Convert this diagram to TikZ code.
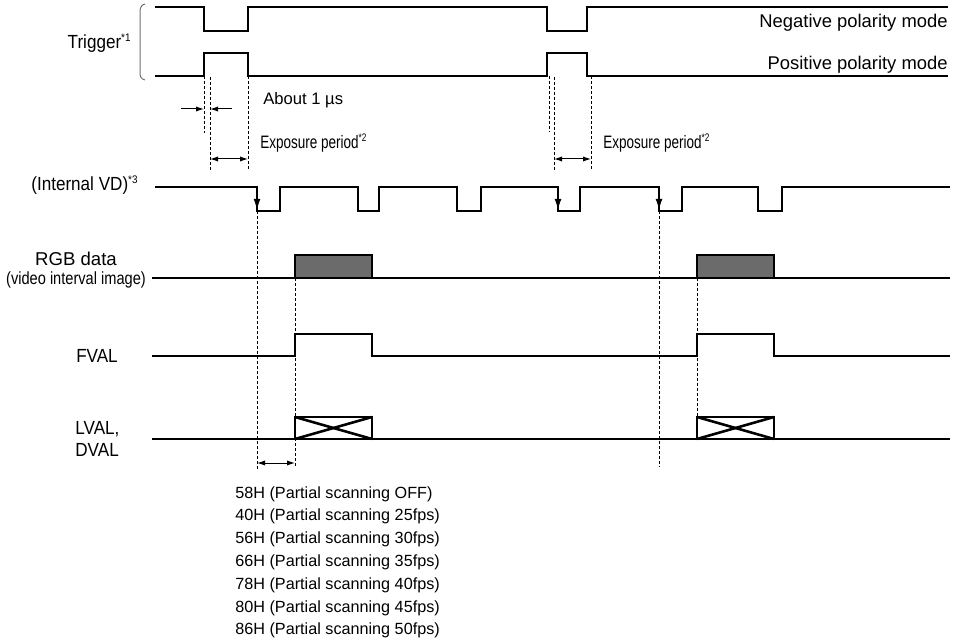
\documentclass[tikz,border=0pt]{standalone}
\usepackage{fontspec}
\setmainfont{Liberation Sans}
\newfontfamily\narrowfont[FakeStretch=0.9]{Liberation Sans}
\newfontfamily\midfont[FakeStretch=0.83]{Liberation Sans}
\newfontfamily\condfont[FakeStretch=0.75]{Liberation Sans}
\usepackage{tikz}
\usetikzlibrary{arrows.meta,positioning,calc}
\definecolor{dataGray}{RGB}{107,107,107}
\definecolor{braceGray}{RGB}{110,110,110}
\newcommand{\notemark}[1]{\raisebox{0.75ex}{\fontsize{5.5}{6}\selectfont*#1}}
\tikzset{
  signal/.style={line width=1.3pt},
  guide/.style={line width=0.45pt,dash pattern=on 1.5pt off 1pt},
  dimarrow/.style={line width=0.5pt,-{Latex[length=4pt,width=2.6pt]}},
  dimboth/.style={line width=0.5pt,{Latex[length=4pt,width=2.6pt]}-{Latex[length=4pt,width=2.6pt]}},
  vdarrow/.style={line width=0.5pt,-{Latex[length=5.5pt,width=3.4pt]}},
  lbl/.style={font=\narrowfont\fontsize{9.5}{11}\selectfont,inner sep=0pt},
  small/.style={font=\fontsize{8.3}{10}\selectfont,inner sep=0pt}
}

\begin{document}
\begin{tikzpicture}[x=0.5pt,y=-0.5pt]
  \useasboundingbox (0,0) rectangle (957,640);
  \draw[braceGray,line width=0.5pt] (145,4) .. controls (141,5) and (140,8) .. (140,12) -- (140,72) .. controls (140,77) and (141,79) .. (145,80);
  \draw[signal] (155,7) -- (204,7) -- (204,31) -- (248,31) -- (248,7) -- (547,7) -- (547,31) -- (587,31) -- (587,7) -- (948,7);
  \draw[signal] (155,76) -- (204,76) -- (204,53) -- (248,53) -- (248,76) -- (547,76) -- (547,53) -- (587,53) -- (587,76) -- (948,76);
  \node[lbl,anchor=east] (trigLbl) at (131,43) {Trigger\notemark{1}};
  \node[font=\fontsize{9.2}{11}\selectfont,inner sep=0pt,anchor=east] (negLbl) at (948,23) {Negative polarity mode};
  \node[font=\fontsize{9.2}{11}\selectfont,inner sep=0pt,anchor=east] (posLbl) at (948,65) {Positive polarity mode};

  \draw[guide] (204,76) -- (204,133);
  \draw[guide] (210,77) -- (210,170);
  \draw[guide] (248,76) -- (248,170);
  \draw[guide] (549,76) -- (549,132);
  \draw[guide] (554,77) -- (554,170);
  \draw[guide] (591,76) -- (591,170);
  \draw[dimarrow] (181,109) -- (204,109);
  \draw[dimarrow] (232,109) -- (210,109);
  \draw[dimboth] (210,159) -- (248,159);
  \draw[dimboth] (554,159) -- (591,159);
  \node[small,anchor=west] (aboutLbl) at (263,100) {About 1 µs};
  \node[anchor=west,inner sep=0pt,font=\condfont\fontsize{9}{10}\selectfont] (expLblA) at (260,143) {Exposure period\notemark{2}};
  \node[anchor=west,inner sep=0pt,font=\condfont\fontsize{9}{10}\selectfont] (expLblB) at (603,143) {Exposure period\notemark{2}};

  \draw[signal] (155,187) foreach \a/\b in {257/280,358/379,457/481,558/580,659/682,758/782} { -- (\a,187) -- (\a,211) -- (\b,211) -- (\b,187) } -- (950,187);
  \foreach \x in {257,558,659}
    \draw[vdarrow] (\x,188) -- (\x,210);
  \node[lbl,anchor=east] (vdLbl) at (138,185) {(Internal VD)\notemark{3}};

  \draw[guide] (257,211) -- (257,470);
  \draw[guide] (659,211) -- (659,467);
  \draw[guide] (295,278) -- (295,467);
  \draw[guide] (697,278) -- (697,417);

  \draw[signal] (152,278) -- (950,278);
  \filldraw[signal,fill=dataGray] (295,278) rectangle (372,255);
  \filldraw[signal,fill=dataGray] (697,278) rectangle (774,255);
  \node[inner sep=0pt,font=\fontsize{9.3}{11}\selectfont] (rgbLbl) at (76,259) {RGB data};
  \node[inner sep=0pt,font=\midfont\fontsize{8.8}{10}\selectfont] (rgbSub) at (76,280) {(video interval image)};

  \draw[signal] (152,356) -- (295,356) -- (295,334) -- (372,334) -- (372,356) -- (697,356) -- (697,334) -- (774,334) -- (774,356) -- (950,356);
  \node[lbl] (fvalLbl) at (97,356) {FVAL};

  \draw[signal] (152,439) -- (950,439);
  \foreach \x in {295,697} {
    \draw[signal] (\x,417) rectangle (\x+77,439);
    \draw[signal] (\x,417) -- (\x+77,439);
    \draw[signal] (\x,439) -- (\x+77,417);
  }
  \node[lbl,anchor=west,align=left,font=\narrowfont\fontsize{9.5}{11}\selectfont] (lvalLbl) at (75,439) {LVAL,\\DVAL};

  \draw[dimboth] (257,463) -- (295,463);
  \foreach \t [count=\i from 0] in {58H (Partial scanning OFF),40H (Partial scanning 25fps),56H (Partial scanning 30fps),66H (Partial scanning 35fps),78H (Partial scanning 40fps),80H (Partial scanning 45fps),86H (Partial scanning 50fps)}
    \node[font=\fontsize{8.1}{10}\selectfont,inner sep=0pt,anchor=base west] (scan\i) at (235,{498+22.8*\i}) {\t};
\end{tikzpicture}
\end{document}
